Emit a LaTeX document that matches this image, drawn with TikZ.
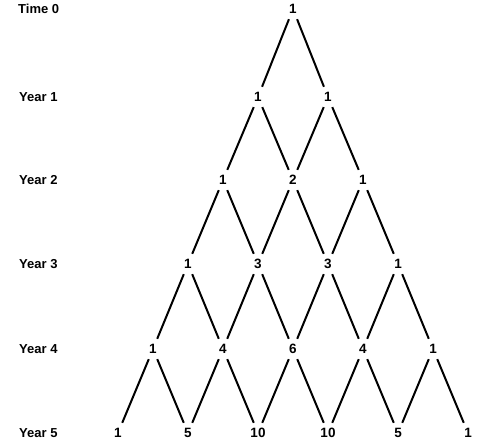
\documentclass[tikz,border=0pt]{standalone}
\usepackage{fontspec}
\setmainfont{Liberation Sans}
\begin{document}
\begin{tikzpicture}[x=1pt,y=1pt,
  val/.style={inner sep=0pt,font=\fontsize{13.5}{15}\selectfont\bfseries},
  rowlab/.style={inner sep=0pt,anchor=west,font=\fontsize{13}{15}\selectfont\bfseries},
  branch/.style={line width=2pt,shorten >=11pt,shorten <=11pt}]
\useasboundingbox (0,0) rectangle (482,441);
% row y positions (from top)
\def\rowy#1{\ifcase#1 9\or 97\or 180\or 264\or 349\or 433\fi}
% row labels
\node[rowlab] (l0) at (18,{441-\rowy{0}}) {Time 0};
\foreach \r in {1,...,5}{
  \node[rowlab] (l\r) at (19,{441-\rowy{\r}}) {Year \r};
}
% values
\foreach \r/\vals in {0/{1},1/{1,1},2/{1,2,1},3/{1,3,3,1},4/{1,4,6,4,1},5/{1,5,10,10,5,1}}{
  \foreach \v [count=\k from 0] in \vals {
    \node[val] (n\r-\k) at ({293+35*(2*\k-\r)},{441-\rowy{\r}}) {\v};
  }
}
% branches
\foreach \r in {0,...,4}{
  \pgfmathtruncatemacro{\nr}{\r+1}
  \foreach \k in {0,...,\r}{
    \pgfmathtruncatemacro{\kk}{\k+1}
    \draw[branch] (n\r-\k.center) -- (n\nr-\k.center);
    \draw[branch] (n\r-\k.center) -- (n\nr-\kk.center);
  }
}
\end{tikzpicture}
\end{document}
